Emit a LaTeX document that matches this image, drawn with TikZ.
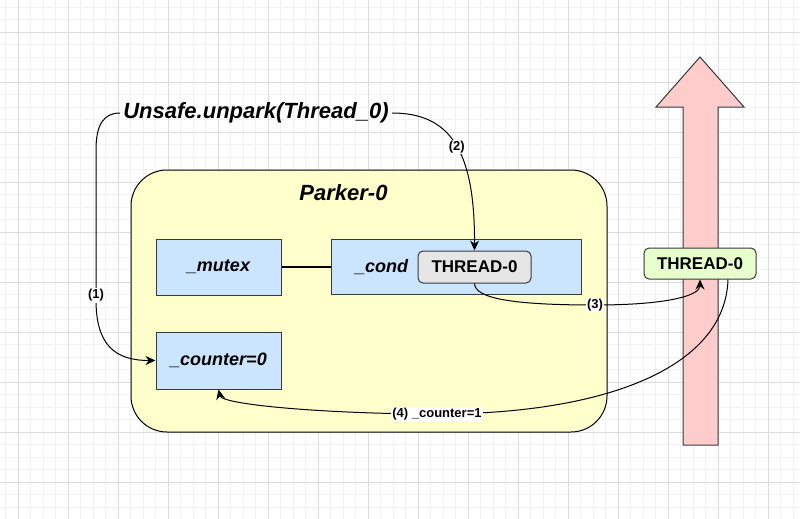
\documentclass[tikz,border=0pt]{standalone}
\usepackage{fontspec}
\setmainfont{Liberation Sans}
\usetikzlibrary{arrows.meta}
\definecolor{parkerfill}{HTML}{FFFFCC}
\definecolor{fieldfill}{HTML}{CCE5FF}
\definecolor{threadfill}{HTML}{E6E6E6}
\definecolor{readyfill}{HTML}{E6FFCC}
\definecolor{runfill}{HTML}{FFCCCC}
\definecolor{strokegray}{HTML}{36393D}
\definecolor{gridminor}{HTML}{F2F2F2}
\definecolor{gridmajor}{HTML}{DDDDDD}
\tikzset{field/.style={draw=strokegray, fill=fieldfill, line width=1pt, inner sep=0pt, minimum width=125pt, font=\fontsize{18}{21}\selectfont\bfseries\itshape}}
\tikzset{thread/.style={draw=strokegray, rounded corners=5pt, line width=1pt, inner sep=0pt, minimum width=113pt, minimum height=32pt, font=\fontsize{17}{20}\selectfont\bfseries}}
\tikzset{link/.style={line width=1pt, -{Stealth[length=10pt,width=9pt]}}}
\tikzset{steplabel/.style={fill=white, inner sep=1pt, font=\fontsize{13}{15}\selectfont\bfseries}}

\begin{document}
\begin{tikzpicture}[x=1pt, y=-1pt]
    \useasboundingbox (0,0) rectangle (800,519);
    \fill[white] (0,0) rectangle (800,519);
    % background grid
    \begin{scope}[shift={(18pt,-32pt)}]
        \clip (-18pt,32pt) rectangle (782pt,-487pt);
        \draw[gridminor, line width=0.8pt, step=12.5pt] (-30pt,-500pt) grid (790pt,40pt);
        \draw[gridmajor, line width=0.8pt, step=50pt] (-30pt,-500pt) grid (790pt,40pt);
    \end{scope}

    \draw[line width=1pt, draw=strokegray, fill=runfill] (683,445) -- (683,107) -- (656,107) -- (700,57) -- (744,107) -- (718,107) -- (718,445) -- cycle;

    \node[draw=black, fill=parkerfill, line width=1pt, rounded corners=36pt, minimum width=476pt, minimum height=262pt] (parker) at (369,301) {};
    \node[font=\fontsize{22}{26}\selectfont\bfseries\itshape] (parkername) at (343.5,193) {Parker-0};
    \node[field, minimum height=56pt] (mutex) at (218.5,267) {\_mutex};
    \node[field, minimum width=250pt, minimum height=55pt, text width=202pt, align=left] (cond) at (456,267) {\_cond};
    \node[thread, fill=threadfill] (waiting) at (474.5,267) {THREAD-0};
    \node[field, minimum height=57pt] (counter) at (218.5,360.5) {\_counter=0};
    \node[thread, fill=readyfill, minimum width=112pt, minimum height=31pt] (ready) at (700,263.5) {THREAD-0};
    \node[inner sep=3pt, font=\fontsize{22}{26}\selectfont\bfseries\itshape] (unpark) at (256,113) {Unsafe.unpark(Thread\_0)};

    \draw[line width=2pt] (mutex) -- (cond);
    \draw[link] (unpark.west) .. controls (104,113) and (96,124) .. (96,150) -- (96,300)
        node[steplabel, pos=0.97] {(1)}
        .. controls (96,345) and (115,360.5) .. (counter.west);
    \draw[link] (unpark.east) .. controls (450,113) and (475,150) ..
        node[steplabel, pos=0.52] {(2)} (waiting.north);
    \draw[link] (waiting.south) .. controls (475,298) and (510,305) .. (595,305)
        node[steplabel] {(3)}
        .. controls (670,305) and (700,295) .. (ready.south);
    \draw[link] ([xshift=28pt]ready.south) .. controls (725,370) and (600,414) .. (437,414)
        node[steplabel] {(4) \_counter=1}
        .. controls (330,414) and (222,405) .. (counter.south);
\end{tikzpicture}
\end{document}
